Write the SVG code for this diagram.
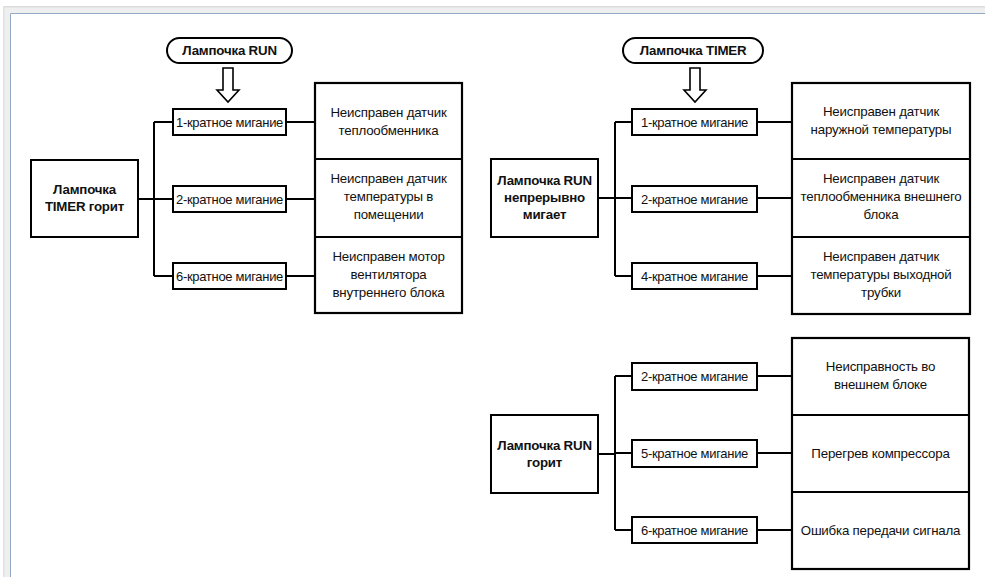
<svg xmlns="http://www.w3.org/2000/svg" width="985" height="577" viewBox="0 0 985 577">
<style>
.box{fill:#fff;stroke:#000;stroke-width:2}
.col{fill:#fff;stroke:#000;stroke-width:2.2}
.line{fill:none;stroke:#000;stroke-width:2}
.arrow{fill:#fff;stroke:#000;stroke-width:1.6;stroke-linejoin:miter}
text{font-family:"Liberation Sans",Arial,sans-serif;fill:#111;text-anchor:middle;dominant-baseline:central}
.s{font-size:13px;letter-spacing:-0.3px}
.m{font-size:13.3px;letter-spacing:-0.2px}
.b{font-size:13.3px;font-weight:bold;letter-spacing:-0.2px}
</style>
<rect x="0" y="0" width="985" height="577" fill="#fff"/>
<rect x="3" y="6" width="982" height="571" fill="#efefef"/>
<rect x="3" y="6" width="982" height="1.5" fill="#dcdcdc"/>
<rect x="3" y="6" width="1.5" height="571" fill="#e2e2e2"/>
<rect x="10" y="13" width="975" height="564" fill="#fff"/>
<path d="M10.5 577 V13.5 H985" fill="none" stroke="#93a9c6" stroke-width="1"/>

<g id="connectors">
  <path class="line" d="M138 199 H154 M154 122 V276 M154 122 H173 M154 199 H173 M154 276 H173 M286 122 H315 M286 199 H315 M286 276 H315"/>
  <path class="line" d="M598 198 H615 M615 122 V276 M615 122 H632 M615 198 H632 M615 276 H632 M757 122 H792 M757 198 H792 M757 276 H792"/>
  <path class="line" d="M598 454 H615 M615 376 V530 M615 376 H632 M615 453 H632 M615 530 H632 M757 376 H792 M757 453 H792 M757 530 H792"/>
  <polygon class="arrow" points="223,68 233,68 233,90 239,90 228,102 217,90 223,90"/>
  <polygon class="arrow" points="690,68 700,68 700,90 706,90 695,102 684,90 690,90"/>
</g>

<g id="oval-run">
  <rect class="box" x="167" y="38" width="125" height="25" rx="12.5"/>
  <text class="b" x="229.5" y="50.5">Лампочка RUN</text>
</g>
<g id="oval-timer">
  <rect class="box" x="623" y="38" width="140" height="25" rx="12.5"/>
  <text class="b" x="693" y="50.5">Лампочка TIMER</text>
</g>

<g id="timer-on">
  <rect class="box" x="31" y="160" width="107" height="77"/>
  <text class="b" x="84.5" y="189">Лампочка</text>
  <text class="b" x="84.5" y="206">TIMER горит</text>
</g>
<g id="l-blink1">
  <rect class="box" x="173" y="109" width="113" height="26"/>
  <text class="s" x="229.5" y="122">1-кратное мигание</text>
</g>
<g id="l-blink2">
  <rect class="box" x="173" y="186" width="113" height="26"/>
  <text class="s" x="229.5" y="199">2-кратное мигание</text>
</g>
<g id="l-blink6">
  <rect class="box" x="173" y="263" width="113" height="26"/>
  <text class="s" x="229.5" y="276">6-кратное мигание</text>
</g>
<g id="l-faults">
  <rect class="col" x="315" y="83" width="147" height="230"/>
  <path class="line" d="M315 159 H462 M315 237 H462"/>
  <text class="m" x="388.5" y="112">Неисправен датчик</text>
  <text class="m" x="388.5" y="130">теплообменника</text>
  <text class="m" x="388.5" y="178">Неисправен датчик</text>
  <text class="m" x="388.5" y="196">температуры в</text>
  <text class="m" x="388.5" y="214">помещении</text>
  <text class="m" x="388.5" y="256">Неисправен мотор</text>
  <text class="m" x="388.5" y="274">вентилятора</text>
  <text class="m" x="388.5" y="292">внутреннего блока</text>
</g>

<g id="run-blinking">
  <rect class="box" x="491" y="159" width="107" height="78"/>
  <text class="b" x="544.5" y="180">Лампочка RUN</text>
  <text class="b" x="544.5" y="197">непрерывно</text>
  <text class="b" x="544.5" y="214">мигает</text>
</g>
<g id="r-blink1">
  <rect class="box" x="632" y="109" width="125" height="26"/>
  <text class="s" x="694.5" y="122">1-кратное мигание</text>
</g>
<g id="r-blink2">
  <rect class="box" x="632" y="186" width="125" height="26"/>
  <text class="s" x="694.5" y="199">2-кратное мигание</text>
</g>
<g id="r-blink4">
  <rect class="box" x="632" y="263" width="125" height="26"/>
  <text class="s" x="694.5" y="276">4-кратное мигание</text>
</g>
<g id="r-faults">
  <rect class="col" x="792" y="83" width="178" height="231"/>
  <path class="line" d="M792 159 H970 M792 237 H970"/>
  <text class="m" x="881" y="111">Неисправен датчик</text>
  <text class="m" x="881" y="129">наружной температуры</text>
  <text class="m" x="881" y="178">Неисправен датчик</text>
  <text class="m" x="881" y="196">теплообменника внешнего</text>
  <text class="m" x="881" y="214">блока</text>
  <text class="m" x="881" y="256">Неисправен датчик</text>
  <text class="m" x="881" y="274">температуры выходной</text>
  <text class="m" x="881" y="292">трубки</text>
</g>

<g id="run-on">
  <rect class="box" x="491" y="415" width="107" height="78"/>
  <text class="b" x="544.5" y="445">Лампочка RUN</text>
  <text class="b" x="544.5" y="462">горит</text>
</g>
<g id="b-blink2">
  <rect class="box" x="632" y="363" width="125" height="27"/>
  <text class="s" x="694.5" y="376">2-кратное мигание</text>
</g>
<g id="b-blink5">
  <rect class="box" x="632" y="440" width="125" height="27"/>
  <text class="s" x="694.5" y="453">5-кратное мигание</text>
</g>
<g id="b-blink6">
  <rect class="box" x="632" y="517" width="125" height="26"/>
  <text class="s" x="694.5" y="530">6-кратное мигание</text>
</g>
<g id="b-faults">
  <rect class="col" x="792" y="338" width="177" height="231"/>
  <path class="line" d="M792 415 H969 M792 492 H969"/>
  <text class="m" x="880.5" y="366">Неисправность во</text>
  <text class="m" x="880.5" y="384">внешнем блоке</text>
  <text class="m" x="880.5" y="453">Перегрев компрессора</text>
  <text class="m" x="880.5" y="530">Ошибка передачи сигнала</text>
</g>
</svg>
